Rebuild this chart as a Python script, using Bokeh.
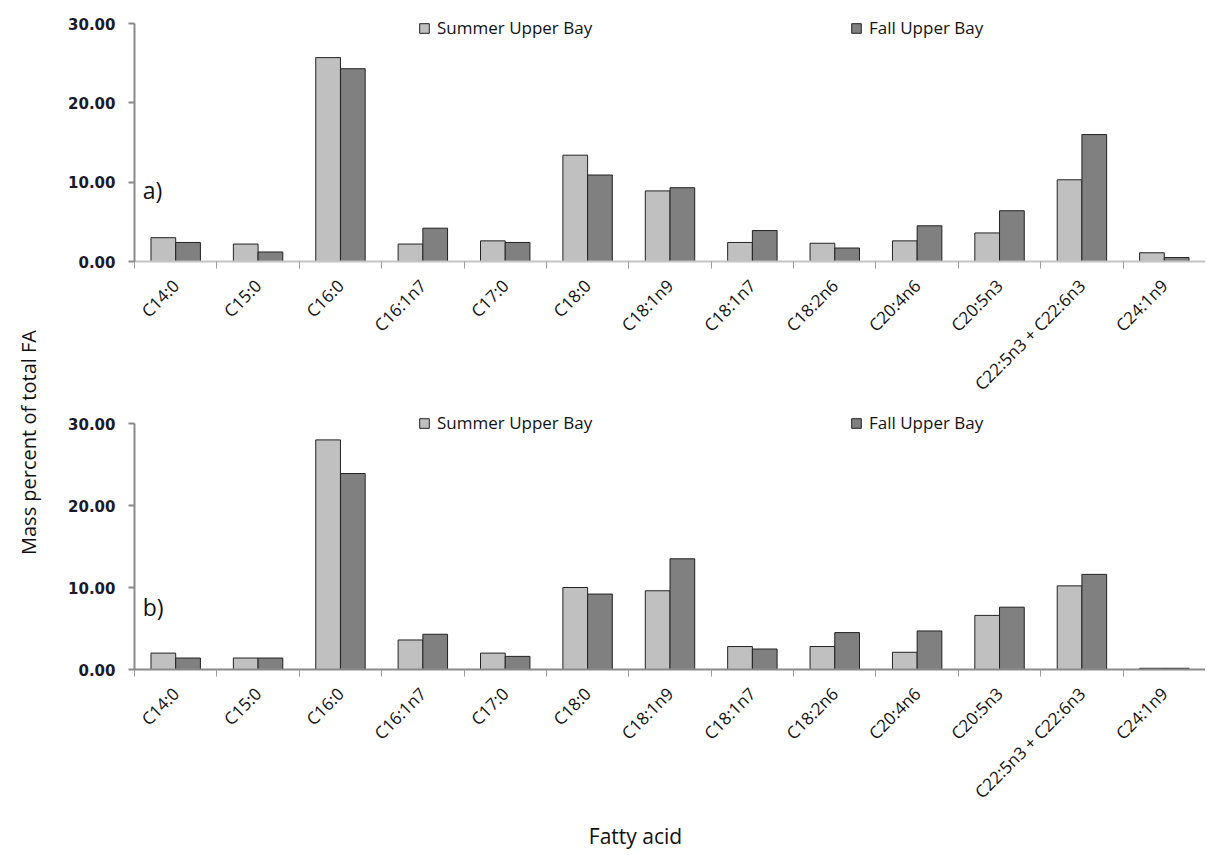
import math
from bokeh.plotting import figure
from bokeh.models import (Range1d, FixedTicker, PrintfTickFormatter, Legend, LegendItem,
                          Label, ColumnDataSource)
from bokeh.layouts import row, column
from bokeh.transform import dodge
from bokeh.embed import file_html
from bokeh.resources import INLINE

categories = ["C14:0", "C15:0", "C16:0", "C16:1n7", "C17:0", "C18:0", "C18:1n9",
              "C18:1n7", "C18:2n6", "C20:4n6", "C20:5n3", "C22:5n3 + C22:6n3", "C24:1n9"]
summer_a = [3.0, 2.2, 25.7, 2.2, 2.6, 13.4, 8.9, 2.4, 2.3, 2.6, 3.6, 10.3, 1.1]
fall_a = [2.4, 1.2, 24.3, 4.2, 2.4, 10.9, 9.3, 3.9, 1.7, 4.5, 6.4, 16.0, 0.5]
summer_b = [2.0, 1.4, 28.0, 3.6, 2.0, 10.0, 9.6, 2.8, 2.8, 2.1, 6.6, 10.2, 0.15]
fall_b = [1.4, 1.4, 23.9, 4.3, 1.6, 9.2, 13.5, 2.5, 4.5, 4.7, 7.6, 11.6, 0.15]
series_names = ["Summer Upper Bay", "Fall Upper Bay"]
panel_tags = ["a)", "b)"]
y_ticks = [0, 10, 20, 30]
y_title = "Mass percent of total FA"
x_title = "Fatty acid"

FONT = "Open Sans"
TXT = "#111111"
LAB_W = 58
BORDER_L = 76
FRAME_W = 1071


def make_panel(summer, fall, tag, frame_h, y_end, b_top, b_bottom, xaxis_color,
               legend_y, tag_y):
    n = len(categories)
    centers = [i + 0.5 for i in range(n)]
    src = ColumnDataSource(dict(pos=centers, cat=categories, s=summer, f=fall))
    p = figure(frame_width=FRAME_W, frame_height=frame_h,
               x_range=Range1d(0, n), y_range=Range1d(0, y_end),
               output_backend="svg", toolbar_location=None,
               min_border_left=BORDER_L, min_border_right=0,
               min_border_top=b_top, min_border_bottom=b_bottom)
    p.outline_line_color = None
    p.xgrid.visible = False
    p.ygrid.visible = False
    p.background_fill_color = "white"

    r1 = p.vbar(x=dodge("pos", -0.15, range=p.x_range), top="s", width=0.3, source=src,
                fill_color="#C0C0C0", line_color="#222222", line_width=1)
    r2 = p.vbar(x=dodge("pos", 0.15, range=p.x_range), top="f", width=0.3, source=src,
                fill_color="#808080", line_color="#222222", line_width=1)

    xa = p.xaxis[0]
    xa.ticker = FixedTicker(ticks=centers, minor_ticks=list(range(n + 1)))
    xa.major_label_overrides = {c: lab for c, lab in zip(centers, categories)}
    xa.major_tick_line_color = None
    xa.minor_tick_in = 0
    xa.minor_tick_out = 7
    xa.minor_tick_line_color = "#9a9a9a"
    xa.minor_tick_line_width = 1
    xa.axis_line_color = xaxis_color
    xa.axis_line_width = 2
    xa.major_label_orientation = math.pi / 4
    xa.major_label_standoff = 14
    xa.major_label_text_font = FONT
    xa.major_label_text_font_size = "17px"
    xa.major_label_text_color = TXT

    ya = p.yaxis[0]
    ya.ticker = FixedTicker(ticks=y_ticks, minor_ticks=[])
    ya.bounds = (0, 30)
    ya.formatter = PrintfTickFormatter(format="%.2f")
    ya.major_tick_in = 0
    ya.major_tick_out = 6
    ya.major_tick_line_color = "#8a8a8a"
    ya.major_tick_line_width = 2
    ya.minor_tick_line_color = None
    ya.axis_line_color = "#8a8a8a"
    ya.axis_line_width = 2
    ya.major_label_text_font = "DejaVu Sans"
    ya.major_label_text_font_style = "bold"
    ya.major_label_text_font_size = "15px"
    ya.major_label_text_color = "#1a1a2a"
    ya.major_label_standoff = 13

    for rend, name, lx in ((r1, series_names[0], 284), (r2, series_names[1], 716)):
        leg = Legend(items=[LegendItem(label=name, renderers=[rend])],
                     location=(lx, legend_y), orientation="horizontal",
                     padding=0, margin=0, border_line_color=None,
                     background_fill_alpha=0, glyph_width=12, glyph_height=12,
                     label_standoff=7, label_height=20, label_text_font=FONT,
                     label_text_font_size="17px", label_text_color=TXT)
        p.add_layout(leg)

    p.add_layout(Label(x=0.1, y=tag_y, text=tag, text_font=FONT, text_font_size="23px",
                       text_baseline="middle", text_color=TXT))
    return p


# top panel: 30 units over 238 px; frame extends a little above the 30 mark
P1_TOP, P1_FRAME, P1_BOT = 17, 244, 149
p1 = make_panel(summer_a, fall_a, panel_tags[0], P1_FRAME, 30 * P1_FRAME / 238,
                P1_TOP, P1_BOT, "#c4c4c4", 222, 9.0)
# bottom panel: 30 units over 246 px; frame extends above the 30 mark for the legend
P2_TOP, P2_FRAME, P2_BOT = 0, 259, 145
p2 = make_panel(summer_b, fall_b, panel_tags[1], P2_FRAME, 30 * P2_FRAME / 246,
                P2_TOP, P2_BOT, "#8a8a8a", 235, 7.6)

XLAB_H = 36
xlab = figure(frame_width=FRAME_W, frame_height=XLAB_H, x_range=Range1d(0, FRAME_W),
              y_range=Range1d(0, XLAB_H), output_backend="svg", toolbar_location=None,
              min_border=0, min_border_left=BORDER_L)
xlab.axis.visible = False
xlab.grid.visible = False
xlab.outline_line_color = None
xlab.add_layout(Label(x=635 - LAB_W - BORDER_L, y=15, x_units="screen", y_units="screen",
                      text=x_title, text_font=FONT, text_font_size="21px",
                      text_align="center", text_baseline="middle", text_color=TXT))

total_h = (P1_TOP + P1_FRAME + P1_BOT) + (P2_TOP + P2_FRAME + P2_BOT) + XLAB_H
lab = figure(frame_width=LAB_W, frame_height=total_h, x_range=Range1d(0, LAB_W),
             y_range=Range1d(0, total_h), output_backend="svg", toolbar_location=None,
             min_border=0)
lab.axis.visible = False
lab.grid.visible = False
lab.outline_line_color = None
lab.add_layout(Label(x=28, y=total_h - 442, x_units="screen", y_units="screen",
                     text=y_title, angle=90, angle_units="deg", text_font=FONT,
                     text_font_size="20px", text_align="center", text_baseline="middle",
                     text_color=TXT))

layout = row(lab, column(p1, p2, xlab, spacing=0), spacing=0)
open("out.html", "w").write(file_html(layout, INLINE))
